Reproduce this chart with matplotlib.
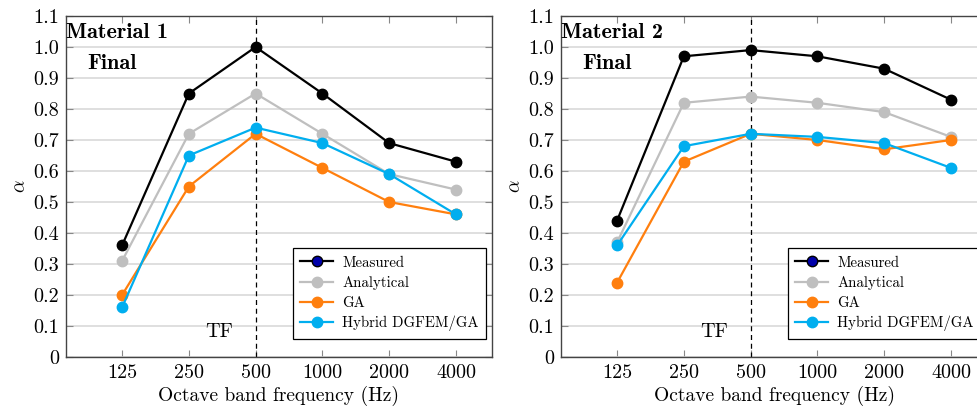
#!/usr/bin/env python3
import numpy as np
import matplotlib
matplotlib.use('Agg')
import matplotlib.pyplot as plt
from matplotlib.ticker import FixedLocator

plt.rcParams['font.family'] = 'serif'
plt.rcParams['font.serif'] = ['cmr10']
plt.rcParams['mathtext.fontset'] = 'cm'
plt.rcParams['axes.formatter.use_mathtext'] = True

freqs = ['125', '250', '500', '1000', '2000', '4000']
series_names = ['Measured', 'Analytical', 'GA', 'Hybrid DGFEM/GA']

# material 1
m1_measured = [0.36, 0.85, 1.00, 0.85, 0.69, 0.63]
m1_analytical = [0.31, 0.72, 0.85, 0.72, 0.59, 0.54]
m1_ga = [0.20, 0.55, 0.72, 0.61, 0.50, 0.46]
m1_hybrid = [0.16, 0.65, 0.74, 0.69, 0.59, 0.46]

# material 2
m2_measured = [0.44, 0.97, 0.99, 0.97, 0.93, 0.83]
m2_analytical = [0.37, 0.82, 0.84, 0.82, 0.79, 0.71]
m2_ga = [0.24, 0.63, 0.72, 0.70, 0.67, 0.70]
m2_hybrid = [0.36, 0.68, 0.72, 0.71, 0.69, 0.61]

yticks = [0, 0.1, 0.2, 0.3, 0.4, 0.5, 0.6, 0.7, 0.8, 0.9, 1.0, 1.1]
ytick_labels = ['0', '0.1', '0.2', '0.3', '0.4', '0.5', '0.6', '0.7', '0.8', '0.9', '1.0', '1.1']

colors = ['black', '#bfbfbf', '#ff7f0e', '#00aeef']

W, H = 977, 417
fig = plt.figure(figsize=(W / 100, H / 100), dpi=100)

panels = [
    ('Material 1', [m1_measured, m1_analytical, m1_ga, m1_hybrid], 66),
    ('Material 2', [m2_measured, m2_analytical, m2_ga, m2_hybrid], 561),
]

x = np.arange(len(freqs))
for title, data, left_px in panels:
    ax = fig.add_axes([left_px / W, (H - 357) / H, 426 / W, 341 / H])
    for vals, name, c in zip(data, series_names, colors):
        ax.plot(x, vals, '-o', color=c, lw=1.6, markersize=7.5, label=name, zorder=3)
    ax.axvline(2, color='black', lw=0.9, ls=(0, (4, 3)), zorder=2)

    ax.set_xlim(-0.84, 5.54)
    ax.set_ylim(0, 1.1)
    ax.set_xticks(x)
    ax.set_xticklabels(freqs)
    ax.yaxis.set_major_locator(FixedLocator(yticks))
    ax.set_yticklabels(ytick_labels)
    ax.grid(axis='y', color='#d9d9d9', lw=1.2, zorder=0)
    ax.tick_params(direction='in', top=True, right=True, length=5, width=0.8,
                   color='#888888', labelsize=14.5, pad=5)
    for s in ax.spines.values():
        s.set_color('#444444')
        s.set_linewidth(1.0)

    ax.set_xlabel('Octave band frequency (Hz)', fontsize=14, labelpad=3)
    ax.set_ylabel(r'$\alpha$', fontsize=14, labelpad=3)

    ax.text(0.0, 0.953, title, transform=ax.transAxes, family='cmb10',
            fontsize=16, va='center', ha='left')
    ax.text(0.05, 0.862, 'Final', transform=ax.transAxes, family='cmb10',
            fontsize=16, va='center', ha='left')
    ax.text(1.45, 0.08, 'TF', fontsize=14.5, ha='center', va='center')

    leg = ax.legend(loc='lower right', bbox_to_anchor=(0.986, 0.053),
                    borderaxespad=0, fancybox=False, framealpha=1,
                    edgecolor='black', fontsize=10.7, handlelength=2.2,
                    handletextpad=0.6, labelspacing=0.42, borderpad=0.5)
    leg.get_frame().set_linewidth(0.9)
    h = leg.legend_handles[0]
    h.set_markerfacecolor('#0000aa')
    h.set_markeredgecolor('black')

fig.savefig('out.png', dpi=100)
